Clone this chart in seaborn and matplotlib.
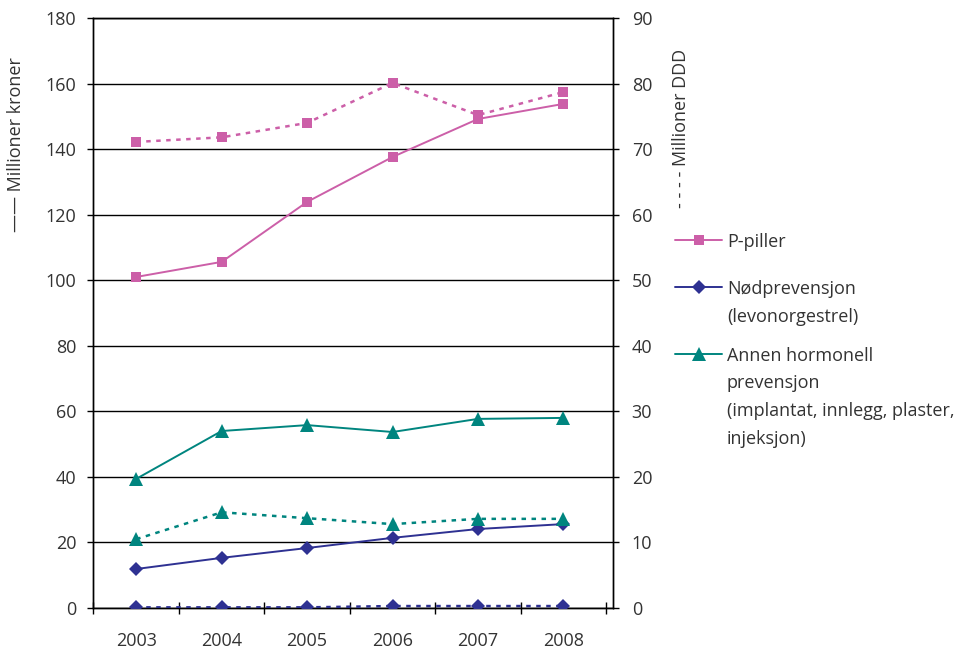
import numpy as np
import pandas as pd
import matplotlib.pyplot as plt
from matplotlib.lines import Line2D
import seaborn as sns

sns.set_theme(style="white")
plt.rcParams['font.family'] = ['Open Sans', 'DejaVu Sans']

# Data
years = [2003, 2004, 2005, 2006, 2007, 2008]
# million NOK (left axis, solid lines)
ppiller_kr = [101.0, 105.6, 123.9, 137.6, 149.2, 153.8]
nod_kr = [11.9, 15.3, 18.3, 21.4, 24.1, 25.6]
annen_kr = [39.4, 54.0, 55.8, 53.7, 57.7, 58.0]
# million DDD (right axis, dotted lines)
ppiller_ddd = [71.1, 71.8, 74.0, 80.1, 75.2, 78.7]
nod_ddd = [0.1, 0.1, 0.1, 0.3, 0.3, 0.3]
annen_ddd = [10.5, 14.6, 13.7, 12.8, 13.6, 13.6]

labels = ['P-piller', 'Nødprevensjon\n(levonorgestrel)',
          'Annen hormonell\nprevensjon\n(implantat, innlegg, plaster,\ninjeksjon)']
colors = ['#CC5FA8', '#2E3192', '#00857F']
markers = ['s', 'D', '^']
msizes = [7.5, 7.5, 9.5]

kr = pd.DataFrame({'År': years, labels[0]: ppiller_kr, labels[1]: nod_kr, labels[2]: annen_kr})
ddd = pd.DataFrame({'År': years, labels[0]: ppiller_ddd, labels[1]: nod_ddd, labels[2]: annen_ddd})

txt = '#333333'
fig = plt.figure(figsize=(9.77, 6.53), dpi=100)
ax = fig.add_axes([0.0957, 0.0689, 0.6274 - 0.0957, 0.9724 - 0.0689])
ax2 = ax.twinx()

for lab, c, m, ms in zip(labels, colors, markers, msizes):
    sns.lineplot(data=kr, x='År', y=lab, ax=ax, color=c, marker=m, markersize=ms,
                 markeredgewidth=0, linewidth=1.4, zorder=5)
    sns.lineplot(data=ddd, x='År', y=lab, ax=ax2, color=c, marker=m, markersize=ms,
                 markeredgewidth=0, linewidth=1.8, linestyle=(0, (1.8, 2.2)), zorder=5)

ax.set_ylim(0, 180)
ax2.set_ylim(0, 90)
ax.set_yticks(np.arange(0, 181, 20))
ax2.set_yticks(np.arange(0, 91, 10))
ax.set_xlim(2002.5, 2008.58)
ax.set_xticks(years)
ax.set_xticklabels([str(y) for y in years])
ax.set_xticks(np.arange(2002.5, 2009, 1.0), minor=True)

ax.yaxis.grid(True, color='black', linewidth=1.0)
ax.set_axisbelow(True)
ax.set_xlabel('')
ax.set_ylabel('')
ax2.set_ylabel('')

for a in (ax, ax2):
    for s in a.spines.values():
        s.set_color('black')
        s.set_linewidth(1.0)
        s.set_visible(True)

ax.tick_params(axis='y', which='major', direction='out', length=4.5, width=1,
               color='black', labelsize=13, labelcolor=txt, pad=8, left=True)
ax2.tick_params(axis='y', which='major', direction='out', length=4.5, width=1,
                color='black', labelsize=13, labelcolor=txt, pad=9, right=True)
ax.tick_params(axis='x', which='major', length=0, labelsize=13, labelcolor=txt, pad=17)
ax.tick_params(axis='x', which='minor', direction='inout', length=9, width=1,
               color='black', bottom=True)

# axis titles with line-style keys
fig.text(0.016, 0.778, '\u2014\u2014 Millioner kroner', rotation=90, ha='center', va='center',
         fontsize=13, color=txt)
fig.text(0.697, 0.804, '- - - - Millioner DDD', rotation=90, ha='center', va='center',
         fontsize=13, color=txt)

# legend drawn beside the plot, handle aligned with first line of each label
W, H = 977, 653
legend_rows = [240, 287, 354]
line_gap = 27.5
for lab, c, m, ms, yp in zip(labels, colors, markers, msizes, legend_rows):
    yf = 1 - yp / H
    fig.add_artist(Line2D([675 / W, 722 / W], [yf, yf], color=c, linewidth=1.4))
    fig.add_artist(Line2D([698.5 / W], [yf], color=c, marker=m, markersize=ms,
                          markeredgewidth=0, linestyle='none'))
    for i, part in enumerate(lab.split('\n')):
        fig.text(727 / W, 1 - (yp + i * line_gap) / H, part, ha='left', va='center_baseline',
                 fontsize=13, color=txt)

fig.savefig('out.png', dpi=100)
